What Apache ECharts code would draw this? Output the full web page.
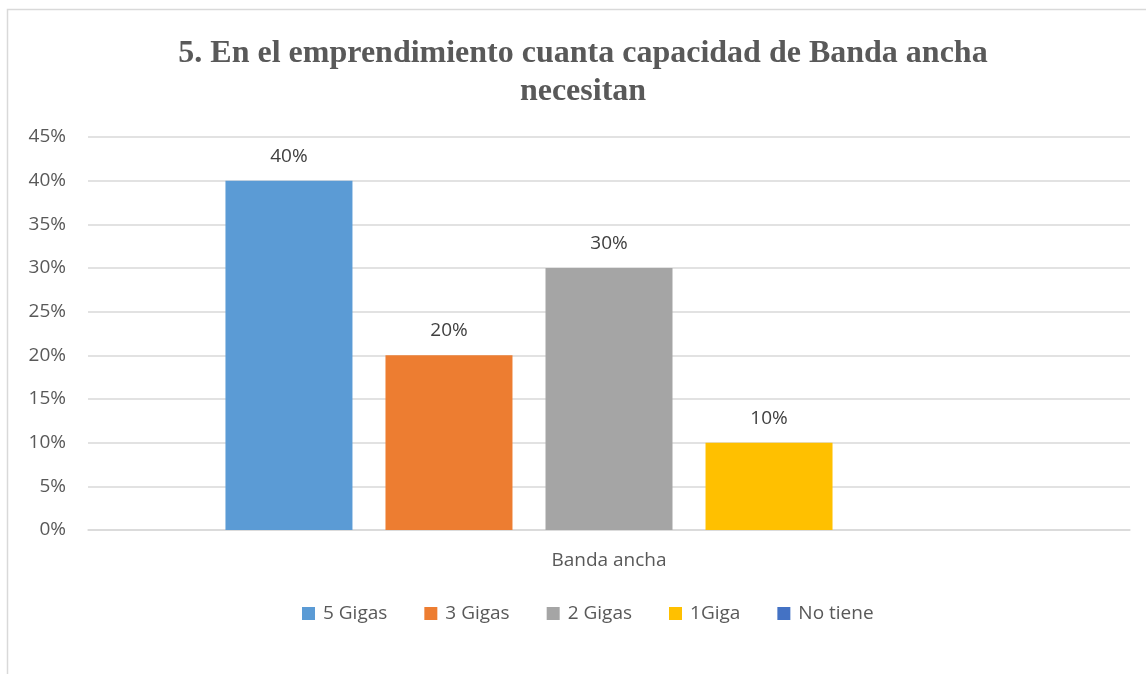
<!DOCTYPE html>
<html>
<head>
<meta charset="utf-8">
<script src="https://cdn.jsdelivr.net/npm/echarts@6/dist/echarts.min.js"></script>
<style>
  html, body { margin: 0; padding: 0; background: #fff; }
  #chart { width: 1146px; height: 674px; }
</style>
</head>
<body>
<div id="chart"></div>
<script>
// Capacidad de banda ancha requerida por el emprendimiento
const categories = ['Banda ancha'];
const seriesNames = ['5 Gigas', '3 Gigas', '2 Gigas', '1Giga', 'No tiene'];
const seriesValues = [40, 20, 30, 10, 0];
const seriesColors = ['#5B9BD5', '#ED7D31', '#A5A5A5', '#FFC000', '#4472C4'];
const yTicks = { min: 0, max: 45, interval: 5 };

const textFont = '"Open Sans", "Liberation Sans", sans-serif';

const chart = echarts.init(document.getElementById('chart'), null, { renderer: 'canvas' });

const series = seriesNames.map((name, i) => ({
  name: name,
  type: 'bar',
  data: [seriesValues[i]],
  barWidth: 127,
  barGap: '26%',
  itemStyle: { color: seriesColors[i] },
  label: {
    show: seriesValues[i] > 0,
    position: 'top',
    distance: 15,
    formatter: '{c}%',
    color: '#404040',
    fontSize: 19,
    fontFamily: textFont
  }
}));

chart.setOption({
  animation: false,
  backgroundColor: '#ffffff',
  graphic: [{
    type: 'rect',
    shape: { x: 7.5, y: 9.5, width: 1200, height: 800 },
    style: { fill: 'none', stroke: '#d9d9d9', lineWidth: 1.5 },
    silent: true,
    z: -1
  }],
  title: {
    text: '5. En el emprendimiento cuanta capacidad de Banda ancha\nnecesitan',
    left: 578,
    top: 30,
    textAlign: 'center',
    textStyle: {
      fontFamily: '"Liberation Serif", "Times New Roman", serif',
      fontWeight: 'bold',
      fontSize: 32,
      lineHeight: 38,
      color: '#595959'
    }
  },
  grid: { left: 88, right: 16, top: 137, bottom: 144, containLabel: false },
  xAxis: {
    type: 'category',
    data: categories,
    axisLine: { show: true, lineStyle: { color: '#d9d9d9', width: 1.5 } },
    axisTick: { show: false },
    axisLabel: { color: '#595959', fontSize: 19, fontFamily: textFont, margin: 21 }
  },
  yAxis: {
    type: 'value',
    min: yTicks.min,
    max: yTicks.max,
    interval: yTicks.interval,
    axisLine: { show: false },
    axisTick: { show: false },
    splitLine: { lineStyle: { color: '#d9d9d9', width: 1.5 } },
    axisLabel: {
      formatter: '{value}%',
      color: '#595959',
      fontSize: 19,
      fontFamily: textFont,
      margin: 22
    }
  },
  legend: {
    data: seriesNames,
    top: 604,
    left: 302,
    padding: 0,
    itemWidth: 13,
    itemHeight: 13,
    itemGap: 37,
    icon: 'rect',
    textStyle: { color: '#595959', fontSize: 19, fontFamily: textFont, padding: [0, 0, 0, 3] }
  },
  series: series
});
</script>
</body>
</html>
